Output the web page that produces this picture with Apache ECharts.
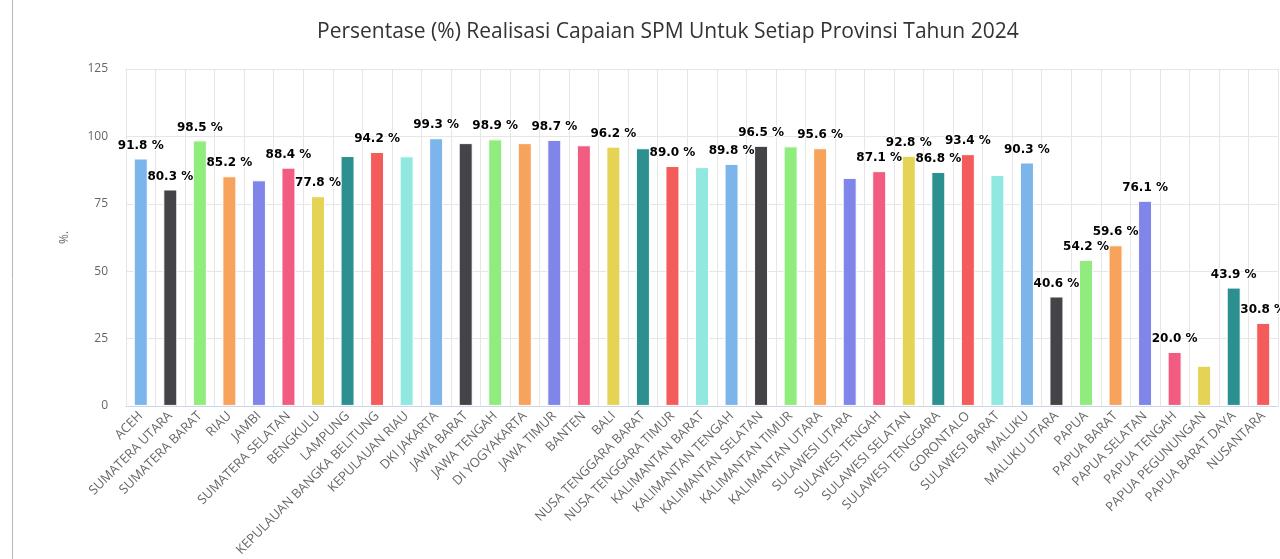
<!DOCTYPE html>
<html>
<head>
<meta charset="utf-8">
<script src="https://cdn.jsdelivr.net/npm/echarts@6/dist/echarts.min.js"></script>
<style>
  body { margin: 0; background: #fff; }
  #chart { width: 1280px; height: 559px; }
</style>
</head>
<body>
<div id="chart"></div>
<script>
const provinces = ['ACEH', 'SUMATERA UTARA', 'SUMATERA BARAT', 'RIAU', 'JAMBI', 'SUMATERA SELATAN', 'BENGKULU', 'LAMPUNG',
  'KEPULAUAN BANGKA BELITUNG', 'KEPULAUAN RIAU', 'DKI JAKARTA', 'JAWA BARAT', 'JAWA TENGAH', 'DI YOGYAKARTA', 'JAWA TIMUR',
  'BANTEN', 'BALI', 'NUSA TENGGARA BARAT', 'NUSA TENGGARA TIMUR', 'KALIMANTAN BARAT', 'KALIMANTAN TENGAH', 'KALIMANTAN SELATAN',
  'KALIMANTAN TIMUR', 'KALIMANTAN UTARA', 'SULAWESI UTARA', 'SULAWESI TENGAH', 'SULAWESI SELATAN', 'SULAWESI TENGGARA',
  'GORONTALO', 'SULAWESI BARAT', 'MALUKU', 'MALUKU UTARA', 'PAPUA', 'PAPUA BARAT', 'PAPUA SELATAN', 'PAPUA TENGAH',
  'PAPUA PEGUNUNGAN', 'PAPUA BARAT DAYA', 'NUSANTARA']
const realisasi = [91.8, 80.3, 98.5, 85.2, 83.7, 88.4, 77.8, 92.7,
  94.2, 92.6, 99.3, 97.5, 98.9, 97.5, 98.7,
  96.7, 96.2, 95.6, 89.0, 88.6, 89.8, 96.5,
  96.3, 95.6, 84.6, 87.1, 92.8, 86.8,
  93.4, 85.7, 90.3, 40.6, 54.2, 59.6, 76.1, 20.0,
  14.9, 43.9, 30.8]
const yTicks = { min: 0, max: 125, interval: 25 }
const palette = ['#7cb5ec', '#434348', '#90ed7d', '#f7a35c', '#8085e9', '#f15c80', '#e4d354', '#2b908f', '#f45b5b', '#91e8e1']

let chart = echarts.init(document.getElementById('chart'))
let option = {
  color: palette,
  textStyle: { fontFamily: 'Open Sans' },
  title: {
    text: 'Persentase (%) Realisasi Capaian SPM Untuk Setiap Provinsi Tahun 2024',
    left: 312,
    top: 17,
    textStyle: { fontSize: 21, fontWeight: 'normal', color: '#333333', fontFamily: 'Open Sans' }
  },
  graphic: [{
    type: 'line',
    shape: { x1: 12.5, y1: 0, x2: 12.5, y2: 559 },
    style: { stroke: '#b8b8b8', lineWidth: 1 }
  }],
  grid: { left: 126, right: 2, top: 69, bottom: 152 },
  xAxis: {
    type: 'category',
    data: provinces,
    axisTick: { show: false },
    axisLine: { lineStyle: { color: '#ccd6eb' } },
    splitLine: { show: true, lineStyle: { color: '#e6e6e6' } },
    axisLabel: { rotate: 45, interval: 0, color: '#666666', fontSize: 13, margin: 8 }
  },
  yAxis: {
    type: 'value',
    min: yTicks.min,
    max: yTicks.max,
    interval: yTicks.interval,
    name: '%.',
    nameLocation: 'middle',
    nameGap: 55,
    nameTextStyle: { color: '#666666', fontSize: 12 },
    axisLine: { show: true, lineStyle: { color: '#e6e6e6' } },
    axisLabel: { color: '#666666', fontSize: 12, margin: 18 },
    splitLine: { lineStyle: { color: '#e6e6e6' } }
  },
  series: [{
    type: 'bar',
    data: realisasi,
    colorBy: 'data',
    barWidth: 14,
    itemStyle: { borderColor: '#ffffff', borderWidth: 1 },
    label: {
      show: true,
      position: 'top',
      distance: 7,
      formatter: p => p.value.toFixed(1) + ' %',
      color: '#000000',
      fontSize: 12,
      lineHeight: 12,
      fontWeight: 'bold',
      fontFamily: 'DejaVu Sans',
      textBorderColor: '#ffffff',
      textBorderWidth: 2
    },
    labelLayout: { hideOverlap: true }
  }]
}
chart.setOption(option)
</script>
</body>
</html>
